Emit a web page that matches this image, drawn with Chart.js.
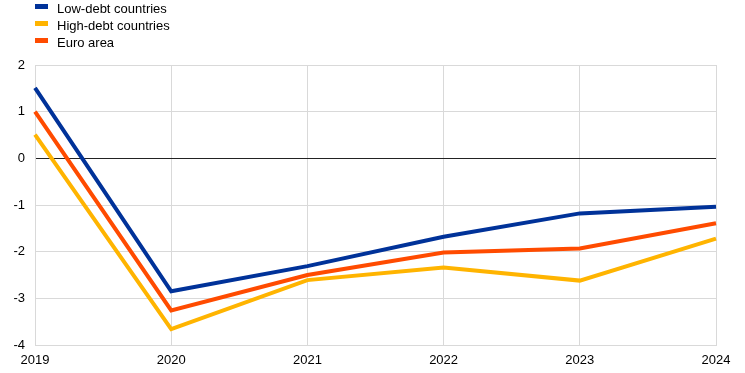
<!DOCTYPE html>
<html>
<head>
<meta charset="utf-8">
<script src="https://cdn.jsdelivr.net/npm/chart.js@4/dist/chart.umd.min.js"></script>
<style>
body{margin:0;background:#fff;font-family:Arial,"Liberation Sans",sans-serif;}
#wrap{position:relative;width:745px;height:373px;}
#legend{position:absolute;left:35px;top:1px;font-size:13px;color:#000;}
.item{height:17px;line-height:16px;white-space:nowrap;}
.box{display:inline-block;width:13px;height:5px;margin-right:9px;vertical-align:middle;position:relative;top:-3px;}
</style>
</head>
<body>
<div id="wrap">
<canvas id="c" width="745" height="373"></canvas>
<div id="legend"></div>
</div>
<script>
var years=["2019","2020","2021","2022","2023","2024"];
var lowDebt=[1.51,-2.85,-2.31,-1.68,-1.18,-1.04];
var highDebt=[0.51,-3.66,-2.61,-2.34,-2.62,-1.72];
var euroArea=[1.0,-3.26,-2.5,-2.02,-1.93,-1.39];
var names=["Low-debt countries","High-debt countries","Euro area"];
var colors=["#003299","#FFB400","#FF4B00"];

var series=[lowDebt,highDebt,euroArea];
var legend=document.getElementById("legend");
names.forEach(function(n,i){
  var d=document.createElement("div");
  d.className="item";
  d.innerHTML='<span class="box" style="background:'+colors[i]+'"></span>'+n;
  legend.appendChild(d);
});

new Chart(document.getElementById("c"),{
type:"line",
data:{
labels:years,
datasets:series.map(function(s,i){
  return {label:names[i],data:s,borderColor:colors[i],backgroundColor:colors[i],borderWidth:4,pointRadius:0,tension:0,fill:false};
})
},
options:{
responsive:false,
animation:false,
layout:{padding:{top:65,right:29,left:0,bottom:0}},
plugins:{legend:{display:false},tooltip:{enabled:false}},
scales:{
x:{
offset:false,
grid:{color:"#d9d9d9",drawTicks:false},
border:{color:"#d9d9d9"},
ticks:{color:"#000",font:{family:"Arial",size:13},padding:8,maxRotation:0},
afterFit:function(s){s.height=28;}
},
y:{
min:-4,max:2,
grid:{color:function(c){return c.tick&&c.tick.value===0?"#222":"#d9d9d9";},drawTicks:false},
border:{color:"#d9d9d9"},
ticks:{stepSize:1,color:"#000",font:{family:"Arial",size:13},padding:10},
afterFit:function(s){s.width=35;}
}
}
}
});
</script>
</body>
</html>
